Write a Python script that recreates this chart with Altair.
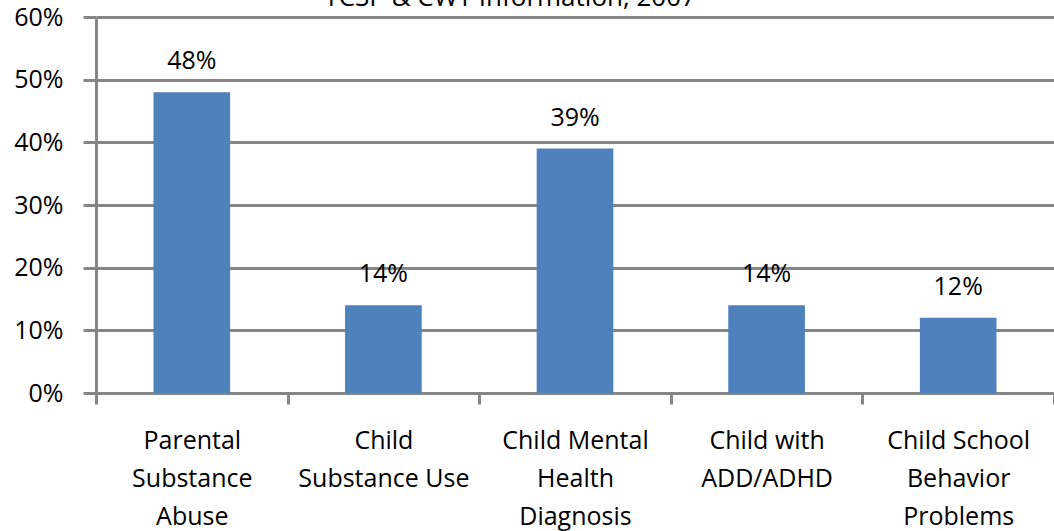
import altair as alt
import pandas as pd

# Categories (line breaks marked with "|") and their shares
categories = [
    "Parental|Substance|Abuse",
    "Child|Substance Use",
    "Child Mental|Health|Diagnosis",
    "Child with|ADD/ADHD",
    "Child School|Behavior|Problems",
]
shares = [0.48, 0.14, 0.39, 0.14, 0.12]
y_ticks = [0, 0.1, 0.2, 0.3, 0.4, 0.5, 0.6]
title_line = "YCSP & CWT Information, 2007"

df = pd.DataFrame({"category": categories, "share": shares})

FONT = "Open Sans"
FS = 25
GRID = "#868686"
BAR = "#4F81BD"

x_enc = alt.X(
    "category:N",
    sort=categories,
    title=None,
    scale=alt.Scale(paddingInner=0, paddingOuter=0),
    axis=alt.Axis(
        labelExpr="split(datum.label, '|')",
        labelAngle=0,
        labelFont=FONT,
        labelFontSize=FS,
        labelColor="black",
        labelLineHeight=38,
        labelPadding=24,
        labelBaseline="top",
        tickBand="extent",
        tickColor=GRID,
        tickWidth=3,
        tickSize=11,
        domain=False,
        grid=False,
    ),
)

y_enc = alt.Y(
    "share:Q",
    title=None,
    scale=alt.Scale(domain=[0, 0.6], nice=False),
    axis=alt.Axis(
        values=y_ticks,
        format=".0%",
        labelFont=FONT,
        labelFontSize=FS,
        labelColor="black",
        labelPadding=20,
        tickColor=GRID,
        tickWidth=3,
        tickSize=13,
        gridColor=GRID,
        gridWidth=3,
        gridOpacity=1,
        domainColor=GRID,
        domainWidth=3,
    ),
)

bars = alt.Chart(df).mark_bar(
    color=BAR, width=alt.RelativeBandSize(0.4)
).encode(x=x_enc, y=y_enc)

labels = alt.Chart(df).mark_text(
    font=FONT, fontSize=FS, color="black", baseline="middle", dy=-31
).encode(
    x=alt.X("category:N", sort=categories),
    y="share:Q",
    text=alt.Text("share:Q", format=".0%"),
)

title = alt.Chart(pd.DataFrame({"t": [title_line]})).mark_text(
    font=FONT, fontSize=26, color="black", baseline="alphabetic", align="center"
).encode(
    x=alt.value(414),
    y=alt.value(-11),
    text="t:N",
)

chart = (
    alt.layer(bars, labels, title)
    .properties(
        width=958,
        height=376,
        autosize=alt.AutoSizeParams(type="none"),
        padding={"left": 96, "top": 17, "right": 0, "bottom": 138},
        background="white",
    )
    .configure_view(stroke=None)
)

chart.save("out.html", embed_options={"renderer": "svg", "actions": False})
